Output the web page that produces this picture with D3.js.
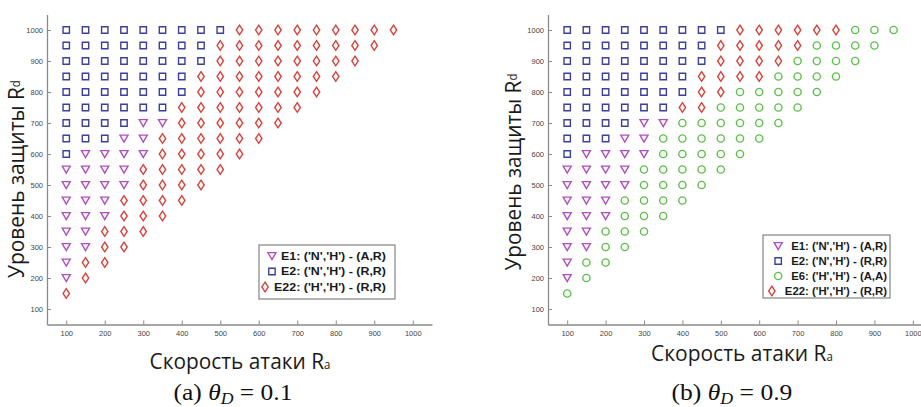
<!DOCTYPE html>
<html>
<head>
<meta charset="utf-8">
<script src="https://cdn.jsdelivr.net/npm/d3@7"></script>
<style>
body { margin: 0; background: #fff; }
.tick text { font-family: "Liberation Sans", Arial, sans-serif; font-size: 7.5px; fill: #444; }
</style>
</head>
<body>
<svg id="chart" width="921" height="407"></svg>
<script>
// Ra along a row (index i -> raValues[i]), Rd for each row top to bottom
var raValues = [100, 150, 200, 250, 300, 350, 400, 450, 500, 550, 600, 650, 700, 750, 800, 850, 900, 950];
var rdValues = [1000, 950, 900, 850, 800, 750, 700, 650, 600, 550, 500, 450, 400, 350, 300, 250, 200, 150];
var tickValues = [100, 200, 300, 400, 500, 600, 700, 800, 900, 1000];

// T = E1, S = E2, C = E6, D = E22
var gridA = [
    "SSSSSSSSSDDDDDDDDD",
    "SSSSSSSSDDDDDDDDD",
    "SSSSSSSSDDDDDDDD",
    "SSSSSSSDDDDDDDD",
    "SSSSSSSDDDDDDD",
    "SSSSSSDDDDDDD",
    "SSSSTTDDDDDD",
    "SSSTTDDDDDD",
    "STTTTDDDDD",
    "TTTTDDDDD",
    "TTTTDDDD",
    "TTTDDDD",
    "TTTDDD",
    "TTDDD",
    "TTDD",
    "TDD",
    "TD",
    "D"
];
var gridB = [
    "SSSSSSSSSDDDDDDCCC",
    "SSSSSSSSDDDDDCCCC",
    "SSSSSSSSDDDDCCCC",
    "SSSSSSSDDDDCCCC",
    "SSSSSSSDDCCCCC",
    "SSSSSSDDCCCCC",
    "SSSSTTCCCCCC",
    "SSSTTCCCCCC",
    "STTTTCCCCC",
    "TTTTCCCCC",
    "TTTTCCCC",
    "TTTCCCC",
    "TTTCCC",
    "TTCCC",
    "TTCC",
    "TCC",
    "TC",
    "C"
];

var legendA = [
    {code: "T", label: "E1: ('N','H') - (A,R)"},
    {code: "S", label: "E2: ('N','H') - (R,R)"},
    {code: "D", label: "E22: ('H','H') - (R,R)"}
];
var legendB = [
    {code: "T", label: "E1: ('N','H') - (A,R)"},
    {code: "S", label: "E2: ('N','H') - (R,R)"},
    {code: "C", label: "E6: ('H','H') - (A,A)"},
    {code: "D", label: "E22: ('H','H') - (R,R)"}
];

var xLabel = "Скорость атаки R", xSub = "a";
var yLabel = "Уровень защиты R", ySub = "d";
var captionA = {pre: "(a) ", value: "0.1"};
var captionB = {pre: "(b) ", value: "0.9"};

var markerStyle = {
    T: {color: "#b04fbf", path: "M-4,-3.4L4,-3.4L0,3.6Z"},
    S: {color: "#3c3f9c", path: "M-3.2,-3.2H3.2V3.2H-3.2Z"},
    D: {color: "#d8423c", path: "M0,-4.8L3.2,0L0,4.8L-3.2,0Z"},
    C: {color: "#5fbf4c", path: null}
};

var svg = d3.select("#chart");

function gridPoints(grid) {
    var pts = [];
    grid.forEach(function(row, r) {
        row.split("").forEach(function(code, i) {
            pts.push({ra: raValues[i], rd: rdValues[r], code: code});
        });
    });
    return pts;
}

function drawMarker(sel) {
    sel.each(function(d) {
        var g = d3.select(this);
        var st = markerStyle[d.code];
        if (d.code == "C") {
            g.append("circle").attr("r", 3.6)
                .attr("fill", "none").attr("stroke", st.color).attr("stroke-width", 1.4);
        } else {
            g.append("path").attr("d", st.path)
                .attr("fill", "none").attr("stroke", st.color).attr("stroke-width", 1.4)
                .attr("stroke-linejoin", "miter");
        }
    });
}

// squeeze / stretch a text node horizontally to a target width around cx
function fitText(node, cx, width) {
    var bb = node.getBBox();
    var s = width / bb.width;
    d3.select(node).attr("transform",
        "translate(" + cx + ",0) scale(" + s + ",1) translate(" + (-(bb.x + bb.width / 2)) + ",0)");
}

function drawPanel(p) {
    var x = d3.scaleLinear().domain([50, 1050]).range([p.left, p.right]);
    var y = d3.scaleLinear().domain([50, 1050]).range([p.bottom, p.top]);

    var g = svg.append("g");

    var xAxis = g.append("g").attr("transform", "translate(0," + p.bottom + ")")
        .call(d3.axisBottom(x).tickValues(tickValues).tickFormat(d3.format("d"))
            .tickSizeInner(-4).tickSizeOuter(0).tickPadding(6));
    var yAxis = g.append("g").attr("transform", "translate(" + p.left + ",0)")
        .call(d3.axisLeft(y).tickValues(tickValues).tickFormat(d3.format("d"))
            .tickSizeInner(-4).tickSizeOuter(0).tickPadding(4));
    [xAxis, yAxis].forEach(function(a) {
        a.select(".domain").attr("stroke", "#8a8a8a").attr("stroke-width", 1.3);
        a.selectAll(".tick line").attr("stroke", "#8a8a8a");
    });

    g.append("g").selectAll("g").data(gridPoints(p.grid)).join("g")
        .attr("transform", function(d) { return "translate(" + x(d.ra) + "," + y(d.rd) + ")"; })
        .call(drawMarker);

    // legend
    var lg = g.append("g");
    lg.append("rect")
        .attr("x", p.legend.x).attr("y", p.legend.y)
        .attr("width", p.legend.w).attr("height", p.legend.h)
        .attr("fill", "#fff").attr("stroke", "#6a6a6a").attr("stroke-width", 1);
    p.legend.items.forEach(function(it, i) {
        var cy = p.legend.y0 + i * p.legend.step;
        var t = lg.append("text")
            .attr("x", p.legend.textRight).attr("y", cy + p.legend.fs * 0.36)
            .attr("text-anchor", "end")
            .style("font-family", "'Liberation Sans', Arial, sans-serif")
            .style("font-weight", "bold")
            .style("font-size", p.legend.fs + "px")
            .attr("fill", "#1a1a1a")
            .text(it.label);
        var w = t.node().getComputedTextLength() * p.legend.stretch;
        t.attr("textLength", w).attr("lengthAdjust", "spacingAndGlyphs");
        lg.append("g")
            .datum({code: it.code})
            .attr("transform", "translate(" + (p.legend.textRight - w - p.legend.gap) + "," + cy + ")")
            .call(drawMarker);
    });

    // x label
    var xl = g.append("text").attr("x", 0).attr("y", p.xLabelY)
        .style("font-family", "'Open Sans', sans-serif").style("font-size", "22px").attr("fill", "#1a1a1a");
    xl.append("tspan").text(xLabel);
    xl.append("tspan").style("font-size", "12px").text(xSub);
    fitText(xl.node(), p.xLabelCx, p.xLabelW);

    // y label (rotated)
    var yg = g.append("g").attr("transform", "translate(" + p.yLabelX + "," + p.yLabelCy + ") rotate(-90)");
    var yl = yg.append("text").attr("x", 0).attr("y", 0)
        .style("font-family", "'Open Sans', sans-serif").style("font-size", "22px").attr("fill", "#1a1a1a");
    yl.append("tspan").text(yLabel);
    yl.append("tspan").attr("dy", -4).style("font-size", "12px").text(ySub);
    fitText(yl.node(), 0, p.yLabelW);

    // caption
    var cap = g.append("text").attr("x", 0).attr("y", p.capY)
        .style("font-family", "'Liberation Serif', 'DejaVu Serif', serif").style("font-size", "23px").attr("fill", "#111");
    cap.append("tspan").text(p.caption.pre);
    cap.append("tspan").style("font-style", "italic").text("θ");
    cap.append("tspan").style("font-style", "italic").style("font-size", "16px").attr("dy", 4).text("D");
    cap.append("tspan").attr("dy", -4).text(" = " + p.caption.value);
    fitText(cap.node(), p.capCx, p.capW);
}

drawPanel({
    left: 47, right: 432, top: 14.5, bottom: 324.5,
    grid: gridA,
    legend: {x: 259, y: 245, w: 136, h: 54, y0: 256, step: 15.5, textRight: 386, fs: 11, stretch: 1.13, gap: 9, items: legendA},
    xLabelY: 369, xLabelCx: 240, xLabelW: 181,
    yLabelX: 24, yLabelCy: 179, yLabelW: 198,
    capY: 400, capCx: 233, capW: 119,
    caption: captionA
});

drawPanel({
    left: 548, right: 932, top: 14.5, bottom: 324.5,
    grid: gridB,
    legend: {x: 763, y: 235, w: 127, h: 63, y0: 246, step: 15, textRight: 887, fs: 10.5, stretch: 1.08, gap: 13, items: legendB},
    xLabelY: 361, xLabelCx: 742, xLabelW: 182,
    yLabelX: 521, yLabelCy: 172, yLabelW: 197,
    capY: 400, capCx: 732, capW: 121,
    caption: captionB
});
</script>
</body>
</html>
